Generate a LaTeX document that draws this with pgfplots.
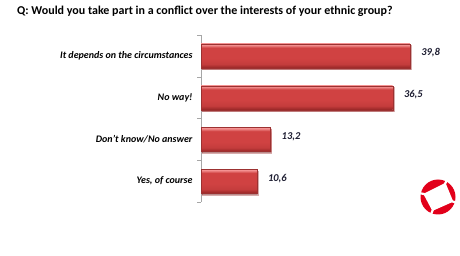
\documentclass[border=0pt]{standalone}
\usepackage{pgfplots}
\pgfplotsset{compat=1.18}
\usepackage{fontspec}
\setmainfont{Carlito}
\usetikzlibrary{shadows}

\definecolor{barTop}{RGB}{244,146,146}
\definecolor{barMid}{RGB}{208,66,66}
\definecolor{barBot}{RGB}{150,38,38}
\definecolor{valText}{RGB}{30,30,50}
\definecolor{logoRed}{RGB}{226,0,26}

% light rim on top, flat body, darker lower edge
\pgfdeclareverticalshading{barshade}{100bp}{%
  color(0bp)=(barBot); color(25bp)=(barBot); color(33bp)=(barMid!80!barBot);
  color(45bp)=(barMid); color(67bp)=(barMid); color(73bp)=(barTop); color(100bp)=(barTop)}

\pgfplotsset{
  redbar/.style={draw=barMid!75!black, line width=0.15pt,
    shading=barshade,
    drop shadow={shadow xshift=1bp, shadow yshift=-1.5bp, opacity=0.4}},
}

\begin{document}
\begin{tikzpicture}
\path[use as bounding box] (0,0) rectangle (460bp,256bp);

\node[anchor=west, font=\fontsize{12bp}{14bp}\selectfont\bfseries, inner sep=0pt]
  at (17bp,245bp) {Q: Would you take part in a conflict over the interests of your ethnic group?};

\begin{axis}[
  at={(201bp,54bp)}, anchor=south west,
  scale only axis, width=252bp, height=167bp,
  xbar, bar width=24bp, bar shift=0pt,
  xmin=0, xmax=48,
  ymin=-0.5, ymax=3.5, y dir=reverse,
  axis x line=none,
  axis y line*=left,
  axis line style={draw=gray!70},
  ytick={0,1,2,3},
  yticklabels={It depends on the circumstances, No way!, Don't know/No answer, {Yes, of course}},
  minor ytick={-0.5,0.5,1.5,2.5,3.5},
  major tick length=0pt,
  minor tick length=4bp,
  tick align=outside,
  minor tick style={draw=gray!70},
  yticklabel style={font=\fontsize{10bp}{12bp}\selectfont\bfseries\itshape, xshift=-5bp},
  nodes near coords={\pgfmathprintnumber[fixed, fixed zerofill, precision=1, use comma, assume math mode=true]{\pgfplotspointmeta}},
  every node near coord/.append style={font=\fontsize{10.5bp}{12bp}\selectfont\bfseries\itshape, text=valText, xshift=8bp, yshift=3bp},
  clip=false,
]
% one plot per bar so each bar carries its own gradient
\addplot[redbar] coordinates {(39.8,0)};
\addplot[redbar] coordinates {(36.5,1)};
\addplot[redbar] coordinates {(13.2,2)};
\addplot[redbar] coordinates {(10.6,3)};
\end{axis}

% emblem in the lower right corner
\begin{scope}[shift={(438bp,59bp)}]
  \fill[logoRed] (0,0) circle (17.5bp);
  \fill[white] (62:16bp) -- (168:15bp) -- (248:15bp) -- (343:16bp) -- cycle;
  \foreach \a in {62,168,248,343}
    \draw[white, line width=2.2bp] (0,0) -- (\a:20bp);
\end{scope}
\end{tikzpicture}
\end{document}
